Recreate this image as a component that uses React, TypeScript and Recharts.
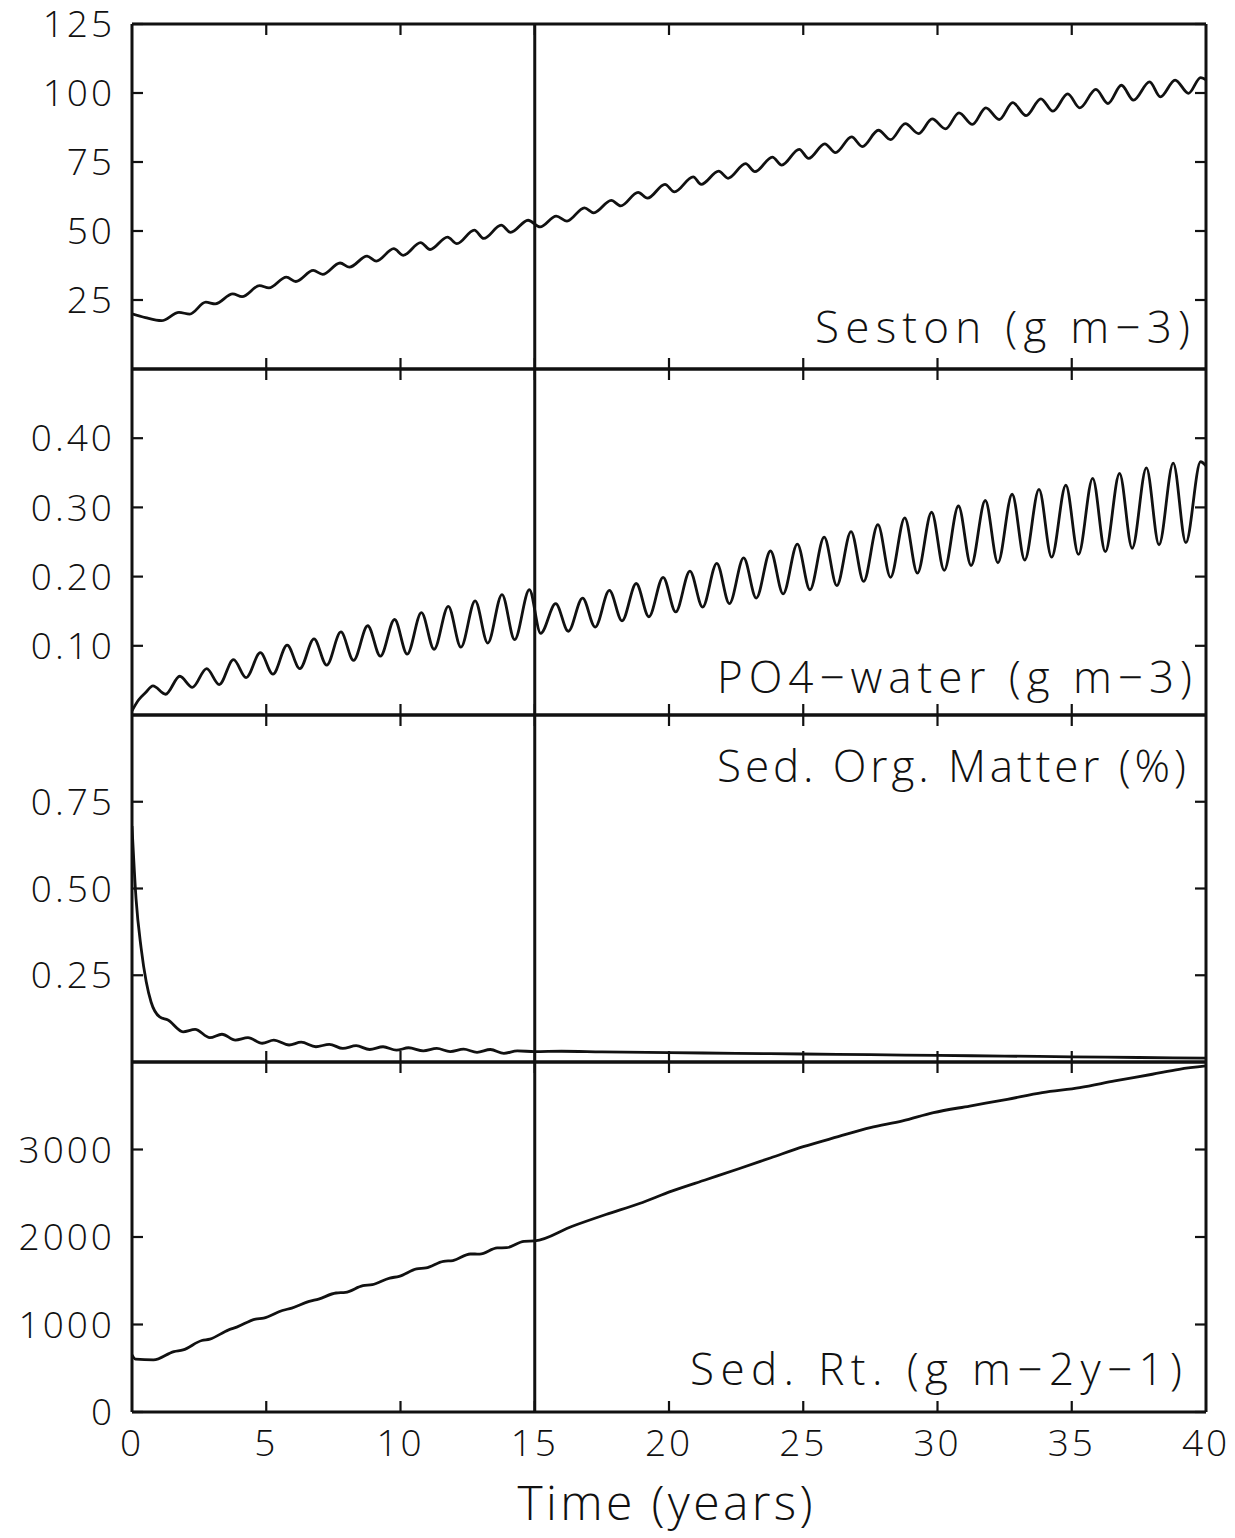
import React from 'react';
import { LineChart, Line, XAxis, YAxis, ReferenceLine } from 'recharts';

// ---------- data ----------
const xTicks = [0, 5, 10, 15, 20, 25, 30, 35, 40];
const xInnerTicks = [5, 10, 15, 20, 25, 30, 35];
const markerYear = 15;

const sestonTicks = [25, 50, 75, 100, 125];
const po4Ticks = [0.1, 0.2, 0.3, 0.4];
const somTicks = [0.25, 0.5, 0.75];
const sedTicks = [0, 1000, 2000, 3000];

const panelLabels = ['Seston (g m\u22123)', 'PO4\u2212water (g m\u22123)', 'Sed. Org. Matter (%)', 'Sed. Rt. (g m\u22122y\u22121)'];
const xTitle = 'Time (years)';

// [time (years), value]
const seston: [number, number][] = [
  [0, 20.0], [0.5, 18.6], [1.1, 17.5], [1.75, 20.5], [2.15, 19.9], [2.75, 24.2], [3.1, 23.6],
  [3.75, 27.2], [4.1, 26.2], [4.75, 30.2], [5.1, 29.4], [5.75, 33.3], [6.1, 31.7], [6.75, 35.7],
  [7.1, 34.3], [7.75, 38.4], [8.1, 36.9], [8.75, 40.9], [9.1, 39.1], [9.75, 43.6], [10.1, 41.2],
  [10.75, 45.8], [11.1, 43.3], [11.75, 47.8], [12.1, 45.4], [12.75, 50.3], [13.1, 47.3],
  [13.75, 52.1], [14.1, 49.5], [14.75, 53.9], [15.2, 51.5], [15.8, 55.4], [16.2, 53.6],
  [16.85, 58.4], [17.2, 56.6], [17.85, 61.1], [18.2, 59.1], [18.85, 64.0], [19.2, 61.9],
  [19.85, 66.9], [20.2, 64.2], [20.9, 69.6], [21.2, 66.9], [21.85, 71.7], [22.2, 69.1],
  [22.85, 74.4], [23.2, 71.5], [23.85, 76.8], [24.2, 73.9], [24.85, 79.6], [25.2, 76.3],
  [25.8, 81.6], [26.2, 78.4], [26.8, 84.1], [27.2, 80.6], [27.8, 86.5], [28.25, 83.1],
  [28.8, 88.9], [29.3, 85.3], [29.8, 90.6], [30.3, 87.0], [30.8, 92.8], [31.3, 88.6],
  [31.8, 94.6], [32.3, 90.4], [32.8, 96.5], [33.3, 91.8], [33.85, 97.9], [34.3, 93.4],
  [34.85, 99.7], [35.3, 94.6], [35.9, 101.3], [36.35, 96.2], [36.85, 102.8], [37.3, 97.4],
  [37.9, 104.0], [38.3, 98.6], [38.85, 104.7], [39.35, 99.9], [39.8, 105.6], [40, 104.8],
];

const po4: [number, number][] = [
  [0, 0.006], [0.25, 0.022], [0.5, 0.032], [0.78, 0.042], [1.25, 0.030], [1.78, 0.056],
  [2.25, 0.040], [2.78, 0.067], [3.25, 0.044], [3.78, 0.080], [4.25, 0.054], [4.78, 0.090],
  [5.25, 0.059], [5.78, 0.101], [6.25, 0.067], [6.78, 0.110], [7.25, 0.072], [7.78, 0.120],
  [8.25, 0.079], [8.78, 0.129], [9.25, 0.085], [9.78, 0.138], [10.25, 0.088], [10.78, 0.148],
  [11.25, 0.095], [11.78, 0.157], [12.25, 0.098], [12.78, 0.165], [13.25, 0.104], [13.78, 0.174],
  [14.25, 0.109], [14.8, 0.181], [15.22, 0.118], [15.78, 0.161], [16.25, 0.121], [16.78, 0.169],
  [17.25, 0.127], [17.78, 0.180], [18.25, 0.136], [18.78, 0.190], [19.25, 0.142], [19.78, 0.199],
  [20.25, 0.149], [20.78, 0.208], [21.25, 0.156], [21.78, 0.219], [22.25, 0.161], [22.78, 0.227],
  [23.25, 0.169], [23.78, 0.237], [24.25, 0.175], [24.78, 0.247], [25.25, 0.181], [25.78, 0.257],
  [26.25, 0.187], [26.78, 0.265], [27.25, 0.193], [27.78, 0.275], [28.25, 0.199], [28.78, 0.285],
  [29.25, 0.205], [29.78, 0.293], [30.25, 0.209], [30.78, 0.302], [31.25, 0.216], [31.78, 0.310],
  [32.25, 0.220], [32.78, 0.319], [33.25, 0.224], [33.78, 0.326], [34.25, 0.228], [34.78, 0.332],
  [35.25, 0.232], [35.78, 0.342], [36.25, 0.236], [36.78, 0.349], [37.25, 0.241], [37.78, 0.357],
  [38.25, 0.246], [38.78, 0.364], [39.25, 0.249], [39.8, 0.366], [40, 0.360],
];

const som: [number, number][] = [
  [0, 0.68], [0.15, 0.471], [0.34, 0.328], [0.53, 0.231], [0.71, 0.173], [1.03, 0.130],
  [1.34, 0.121], [1.9, 0.087], [2.35, 0.094], [2.9, 0.070], [3.35, 0.080], [3.85, 0.063],
  [4.32, 0.070], [4.85, 0.054], [5.28, 0.063], [5.85, 0.049], [6.3, 0.057], [6.85, 0.044],
  [7.35, 0.051], [7.85, 0.039], [8.35, 0.047], [8.85, 0.036], [9.35, 0.044], [9.85, 0.034],
  [10.3, 0.041], [10.85, 0.032], [11.35, 0.039], [11.85, 0.030], [12.35, 0.037], [12.85, 0.028],
  [13.35, 0.036], [13.85, 0.025], [14.35, 0.032], [15, 0.030], [16, 0.031], [17.5, 0.029],
  [20, 0.027], [22.5, 0.025], [25, 0.023], [27.5, 0.021], [30, 0.019], [32.5, 0.017],
  [35, 0.015], [37.5, 0.013], [40, 0.011],
];

const sedRate: [number, number][] = [
  [0, 653], [0.13, 604], [0.8, 596], [1.56, 691], [1.9, 710], [2.6, 817], [2.9, 833], [3.6, 939],
  [3.9, 970], [4.6, 1062], [4.9, 1073], [5.6, 1160], [5.95, 1188], [6.6, 1264], [6.95, 1291],
  [7.6, 1360], [7.95, 1367], [8.6, 1443], [8.95, 1455], [9.6, 1531], [9.95, 1550], [10.6, 1635],
  [10.95, 1646], [11.6, 1722], [11.95, 1730], [12.6, 1806], [12.95, 1805], [13.6, 1875],
  [13.95, 1878], [14.6, 1951], [15, 1955], [16.4, 2123], [17.65, 2257], [18.9, 2383],
  [20.1, 2524], [21.4, 2657], [22.6, 2780], [23.8, 2906], [25, 3032], [26.3, 3147], [27.5, 3250],
  [28.7, 3326], [29.85, 3421], [31.2, 3497], [32.6, 3574], [33.9, 3650], [35.3, 3707],
  [36.6, 3783], [38, 3860], [39, 3917], [40, 3955],
];

// ---------- layout ----------
const W = 1235;
const H = 1538;
const PLOT_LEFT = 132;
const PLOT_RIGHT = 1206;
const FONT = "'Open Sans', 'DejaVu Sans', sans-serif";
const INK = '#111';

const toRows = (pairs: [number, number][]) => pairs.map(([t, v]) => ({ t, v }));
const blank = () => '';

type PanelProps = {
  pairs: [number, number][];
  top: number;
  bottom: number;
  domain: [number, number];
  ticks: number[];
  fmt: (v: number) => string;
  showX?: boolean;
  padTop?: number;
};

function Panel({ pairs, top, bottom, domain, ticks, fmt, showX = false, padTop = 20 }: PanelProps) {
  const padBottom = showX ? 80 : 12;
  const h = bottom - top + padTop + padBottom;
  const axisLine = { stroke: INK, strokeWidth: 3 };
  const tickLine = { stroke: INK, strokeWidth: 2.2 };
  const tickFont = { fontSize: 37, fill: INK, fontFamily: FONT, fontWeight: 300, letterSpacing: 3 };
  const noLabel = { fontSize: 1, fill: 'none' };
  return (
    <div style={{ position: 'absolute', left: 0, top: top - padTop }}>
      <LineChart
        width={W}
        height={h}
        data={toRows(pairs)}
        margin={{ top: padTop, right: W - PLOT_RIGHT, bottom: showX ? 0 : padBottom, left: 0 }}
      >
        <XAxis xAxisId="b" dataKey="t" type="number" domain={[0, 40]} ticks={xInnerTicks}
          orientation="bottom" mirror tick={noLabel} tickFormatter={blank} tickSize={11}
          axisLine={axisLine} tickLine={tickLine} allowDataOverflow />
        <XAxis xAxisId="tp" dataKey="t" type="number" domain={[0, 40]} ticks={xInnerTicks}
          orientation="top" mirror tick={noLabel} tickFormatter={blank} tickSize={11}
          axisLine={axisLine} tickLine={tickLine} allowDataOverflow />
        {showX && (
          <XAxis xAxisId="lab" dataKey="t" type="number" domain={[0, 40]} ticks={xTicks}
            orientation="bottom" axisLine={false} tickLine={false} tickSize={0} tickMargin={18}
            height={padBottom} tick={tickFont} allowDataOverflow />
        )}
        <YAxis yAxisId="l" type="number" domain={domain} ticks={ticks} orientation="left" mirror
          tick={noLabel} tickFormatter={blank} tickSize={11} axisLine={axisLine} tickLine={tickLine}
          allowDataOverflow />
        <YAxis yAxisId="r" type="number" domain={domain} ticks={ticks} orientation="right" mirror
          tick={noLabel} tickFormatter={blank} tickSize={11} axisLine={axisLine} tickLine={tickLine}
          allowDataOverflow />
        <YAxis yAxisId="lab" type="number" domain={domain} ticks={ticks} orientation="left"
          width={PLOT_LEFT} axisLine={false} tickLine={false} tickSize={0} tickMargin={17}
          tickFormatter={fmt} tick={tickFont} allowDataOverflow />
        <ReferenceLine xAxisId="b" yAxisId="l" x={markerYear} stroke={INK} strokeWidth={3} />
        <Line xAxisId="b" yAxisId="l" dataKey="v" type="monotone" stroke={INK} strokeWidth={2.8}
          dot={false} activeDot={false} isAnimationActive={false} />
      </LineChart>
    </div>
  );
}

export default function App() {
  const labelStyle = { fontSize: 44, fill: INK, fontFamily: FONT, fontWeight: 300 } as const;
  return (
    <div style={{ position: 'absolute', left: 0, top: 0, width: W, height: H, background: '#fff' }}>
      <Panel pairs={seston} top={24} bottom={369} domain={[0, 125]} ticks={sestonTicks}
        fmt={(v) => String(v)} padTop={30} />
      <Panel pairs={po4} top={369} bottom={715} domain={[0, 0.5]} ticks={po4Ticks}
        fmt={(v) => v.toFixed(2)} />
      <Panel pairs={som} top={715} bottom={1062} domain={[0, 1]} ticks={somTicks}
        fmt={(v) => v.toFixed(2)} />
      <Panel pairs={sedRate} top={1062} bottom={1412} domain={[0, 4000]} ticks={sedTicks}
        fmt={(v) => String(v)} showX />
      <svg width={W} height={H} style={{ position: 'absolute', left: 0, top: 0, pointerEvents: 'none' }}>
        <text x={1190} y={343} textAnchor="end" textLength={375} lengthAdjust="spacing" {...labelStyle}>{panelLabels[0]}</text>
        <text x={1192} y={693} textAnchor="end" textLength={475} lengthAdjust="spacing" {...labelStyle}>{panelLabels[1]}</text>
        <text x={1186} y={782} textAnchor="end" textLength={469} lengthAdjust="spacing" {...labelStyle}>{panelLabels[2]}</text>
        <text x={1182} y={1385} textAnchor="end" textLength={492} lengthAdjust="spacing" {...labelStyle}>{panelLabels[3]}</text>
        <text x={665} y={1520} textAnchor="middle" textLength={295} lengthAdjust="spacing" {...labelStyle} fontSize={48}>{xTitle}</text>
      </svg>
    </div>
  );
}
